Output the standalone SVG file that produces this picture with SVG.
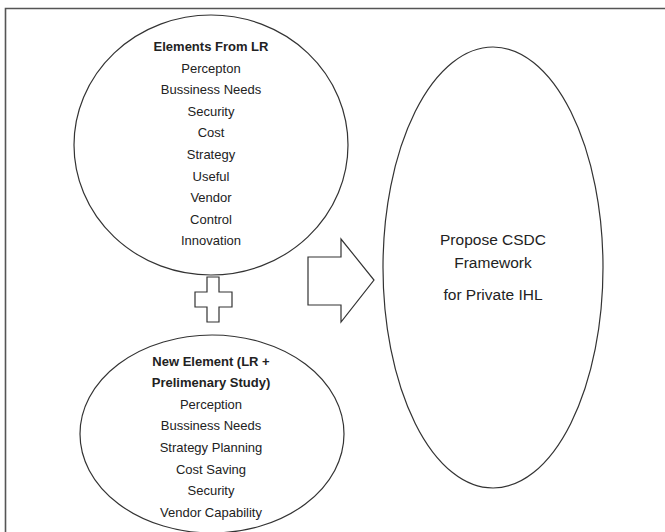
<svg xmlns="http://www.w3.org/2000/svg" width="665" height="532" viewBox="0 0 665 532">
<style>
.frame{stroke:#555;stroke-width:1.6;fill:none}
.shape{fill:#fff;stroke:#333;stroke-width:1.2}
.t{font-family:"Liberation Sans",Arial,sans-serif;font-size:13px;fill:#222;text-anchor:middle}
.b{font-weight:bold}
.big{font-family:"Liberation Sans",Arial,sans-serif;font-size:15.5px;fill:#222;text-anchor:middle}
</style>
<rect width="665" height="532" fill="#fff"/>
<path class="frame" d="M5.5,540 V8.5 H670"/>
<g id="elements-from-lr">
<ellipse class="shape" cx="211" cy="145" rx="137" ry="130"/>
<text class="t b" x="211" y="50.5">Elements From LR</text>
<text class="t" x="211" y="72.5">Percepton</text>
<text class="t" x="211" y="94">Bussiness Needs</text>
<text class="t" x="211" y="115.5">Security</text>
<text class="t" x="211" y="137">Cost</text>
<text class="t" x="211" y="159">Strategy</text>
<text class="t" x="211" y="180.5">Useful</text>
<text class="t" x="211" y="202">Vendor</text>
<text class="t" x="211" y="223.5">Control</text>
<text class="t" x="211" y="245">Innovation</text>
</g>
<g id="plus">
<path class="shape" d="M207,277 H219 V292 H232 V307 H219 V322 H207 V307 H195 V292 H207 Z"/>
</g>
<g id="new-element">
<ellipse class="shape" cx="212" cy="434" rx="132" ry="99"/>
<text class="t b" x="211" y="365.5">New Element (LR +</text>
<text class="t b" x="211" y="387">Prelimenary Study)</text>
<text class="t" x="211" y="408.5">Perception</text>
<text class="t" x="211" y="430">Bussiness Needs</text>
<text class="t" x="211" y="452">Strategy Planning</text>
<text class="t" x="211" y="473.5">Cost Saving</text>
<text class="t" x="211" y="495">Security</text>
<text class="t" x="211" y="517">Vendor Capability</text>
</g>
<g id="connectors">
<path class="shape" d="M308,257 H341 V239 L374,280 L341,322 V305 H308 Z"/>
</g>
<g id="framework">
<ellipse class="shape" cx="493" cy="267.5" rx="110" ry="220.5"/>
<text class="big" x="493" y="245">Propose CSDC</text>
<text class="big" x="493" y="268">Framework</text>
<text class="big" x="493" y="300">for Private IHL</text>
</g>
</svg>
